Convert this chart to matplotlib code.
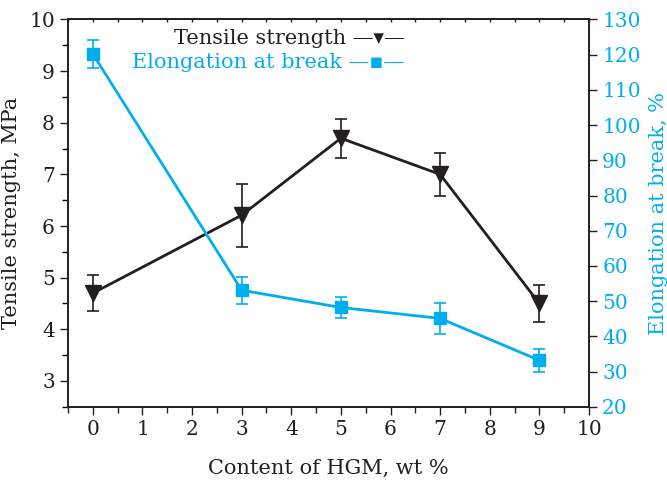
import numpy as np
import matplotlib
matplotlib.use("Agg")
import matplotlib.pyplot as plt
from matplotlib.ticker import MultipleLocator

# data
hgm = [0, 3, 5, 7, 9]
tensile = [4.70, 6.21, 7.70, 7.00, 4.50]
tensile_err = [0.35, 0.61, 0.38, 0.42, 0.36]
elong = [120.2, 53.1, 48.2, 45.1, 33.2]
elong_err = [3.9, 3.8, 2.9, 4.3, 3.2]
legend_labels = ['Tensile strength \u2014\u25be\u2014', 'Elongation at break \u2014\u25aa\u2014']

blk = '#231f20'
blu = '#00aeef'

plt.rcParams['font.family'] = ['DejaVu Serif', 'DejaVu Sans']
plt.rcParams['mathtext.fontset'] = 'dejavuserif'

fig = plt.figure(figsize=(6.67, 4.86), dpi=100)
ax = fig.add_axes([0.102, 0.163, 0.781, 0.797])
ax2 = ax.twinx()

# tensile strength (left axis)
ax.errorbar(hgm, tensile, yerr=tensile_err, color=blk, lw=2.0, marker='v', ms=11,
            ecolor=blk, elinewidth=1.2, capsize=4, capthick=1.2)
# elongation (right axis)
ax2.errorbar(hgm, elong, yerr=elong_err, color=blu, lw=2.0, marker='s', ms=8,
             ecolor=blu, elinewidth=1.2, capsize=4, capthick=1.2)

ax.set_xlim(-0.5, 10)
ax.set_ylim(2.5, 10)
ax2.set_ylim(20, 130)

ax.xaxis.set_major_locator(MultipleLocator(1))
ax.xaxis.set_minor_locator(MultipleLocator(0.5))
ax.yaxis.set_major_locator(MultipleLocator(1))
ax.yaxis.set_minor_locator(MultipleLocator(0.5))
ax2.yaxis.set_major_locator(MultipleLocator(10))

ax.tick_params(axis='x', which='both', bottom=True, top=False, labelsize=14.5, colors=blk)
ax.tick_params(axis='x', which='major', direction='out', length=6, width=1)
ax.tick_params(axis='x', which='minor', direction='out', length=4, width=1)
ax.tick_params(axis='y', which='major', direction='out', length=6, width=1, labelsize=14.5, colors=blk)
ax.tick_params(axis='y', which='minor', direction='out', length=4, width=1)
ax2.tick_params(axis='y', which='major', direction='out', length=6, width=1, labelsize=14.5,
                labelcolor=blu, color=blk)

# small inward ticks along the top spine
top = ax.secondary_xaxis('top')
top.xaxis.set_major_locator(MultipleLocator(0.5))
top.tick_params(direction='in', length=2.5, width=1, labeltop=False, color=blk)
top.spines['top'].set_color(blk)
top.spines['top'].set_linewidth(1.2)

for a in (ax, ax2):
    for s in a.spines.values():
        s.set_color(blk)
        s.set_linewidth(1.2)

ax.set_xlabel('Content of HGM, wt %', fontsize=15, color=blk, labelpad=14)
ax.set_ylabel('Tensile strength, MPa', fontsize=15, color=blk, labelpad=6)
ax2.set_ylabel('Elongation at break, %', fontsize=15, color=blu, labelpad=6)

# legend written as text, like the original
ax2.text(0.646, 0.952, legend_labels[0], transform=ax2.transAxes, ha='right', va='center',
         fontsize=15, color=blk)
ax2.text(0.646, 0.889, legend_labels[1], transform=ax2.transAxes, ha='right', va='center',
         fontsize=15, color=blu)

fig.savefig('out.png', dpi=100)
